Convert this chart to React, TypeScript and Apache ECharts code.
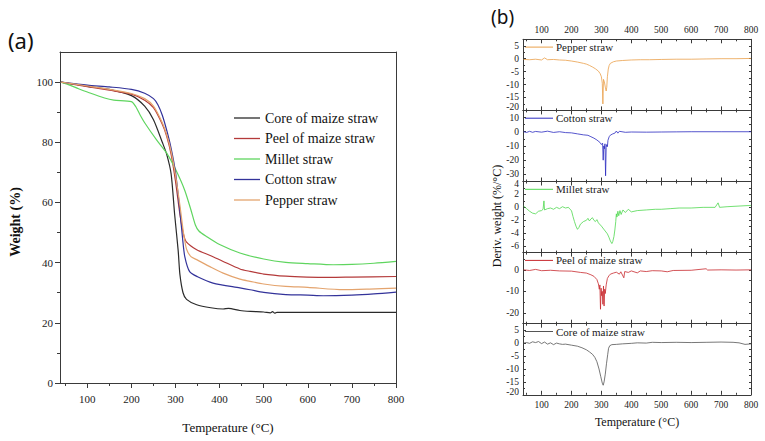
import React, { useEffect, useRef } from 'react';
import * as echarts from 'echarts';

// ---------- DATA ----------
const seriesNames = ['Core of maize straw', 'Peel of maize straw', 'Millet straw', 'Cotton straw', 'Pepper straw'];

// TGA (panel a): [temperature °C, weight %]
const tgaCore = [[40,100],[60,99.5],[80,99.1],[100,98.6],[150,97.6],[200,95.5],[230,92],[250,87.5],[270,80],[280,76],[290,69.5],[298,56],[306,44],[310,36],[317,30],[325,27.8],[348,26],[380,25],[408,24.6],[420,24.8],[446,24.1],[470,23.8],[500,23.6],[515,23.3],[520,23.7],[525,23.2],[530,23.5],[800,23.5]];
const tgaPeel = [[40,100],[100,98.5],[150,97.3],[200,96],[230,94],[250,91.5],[270,86],[280,82],[290,76],[300,67],[310,56],[318,49.5],[325,46.8],[348,44.3],[380,42.3],[408,40.4],[446,37.9],[469,37.1],[500,36.2],[550,35.5],[598,35.2],[650,35.1],[700,35.2],[800,35.4]];
const tgaMillet = [[40,100],[60,99],[80,97.8],[100,96.7],[139,94.7],[160,94],[200,93.5],[210,91.8],[220,89],[230,86.5],[257,80.8],[280,76.4],[300,71],[321,64],[335,57.5],[345,52.5],[353,50.5],[370,48.7],[400,46],[446,43.2],[500,41.2],[550,40.1],[600,39.7],[658,39.3],[700,39.4],[750,39.8],[800,40.4]];
const tgaCotton = [[40,100],[100,99],[150,98.4],[200,97.6],[230,96.3],[250,94.5],[260,92.5],[270,89],[280,84],[290,78],[300,70],[310,57],[316,48],[321,42],[332,37],[350,35.3],[385,33.2],[446,31.6],[469,31],[500,30.1],[550,29.4],[600,29.2],[635,29],[700,29.2],[750,29.6],[800,30.2]];
const tgaPepper = [[40,100],[100,98.7],[150,97.6],[200,96.2],[230,94.5],[250,92],[270,86.5],[280,82.5],[290,77],[300,69],[310,59],[318,50],[325,44.5],[335,42],[348,41],[380,38.5],[408,36.5],[446,34.5],[469,33.8],[500,32.9],[550,32.1],[600,31.8],[680,31],[740,31.2],[800,31.5]];

// DTG (panel b): [temperature °C, deriv. weight %/°C]
const dtgPepper = [[40,-0.3],[60,-0.4],[80,-0.2],[100,-0.5],[110,0.3],[120,-0.4],[140,-0.3],[160,-0.5],[180,-0.6],[200,-0.9],[220,-1.3],[240,-1.8],[250,-2.1],[260,-2.6],[270,-3.2],[280,-3.9],[290,-4.8],[296,-5.8],[300,-7],[303,-9.5],[305,-17.5],[307,-8],[310,-9],[313,-11],[316,-12.5],[318,-11],[320,-7],[323,-4],[326,-2.6],[330,-1.8],[340,-1.2],[350,-0.9],[370,-0.7],[400,-0.5],[430,-0.4],[460,-0.4],[500,-0.3],[550,-0.2],[600,-0.2],[650,-0.1],[700,0],[750,0],[800,0.1]];
const dtgCotton = [[40,0],[50,-0.5],[60,0.3],[70,-0.4],[80,0.2],[100,-0.3],[120,0.4],[140,-0.5],[160,0],[180,-0.6],[200,-0.8],[220,-1.5],[240,-2.2],[255,-2.5],[265,-3.5],[275,-4.5],[285,-5.8],[295,-7.5],[300,-9],[304,-8],[306,-20],[308,-10],[310,-12],[312,-8.5],[314,-31],[316,-11],[318,-9],[320,-10.5],[322,-6],[326,-3.5],[330,-2.4],[338,-1.5],[345,-1],[350,0.5],[355,-1],[360,0.3],[380,-0.4],[400,-0.2],[450,-0.3],[500,-0.2],[550,-0.1],[600,0],[700,0],[800,0]];
const dtgMillet = [[40,0.2],[50,-0.2],[60,-0.6],[70,-0.9],[80,-1],[90,-0.6],[100,-0.5],[105,-0.3],[108,1],[110,-0.4],[120,-0.2],[130,-0.1],[140,-0.3],[150,0],[160,-0.2],[170,0.1],[180,-0.1],[190,0],[195,-0.3],[200,-0.5],[205,-1.4],[210,-2.2],[215,-2.9],[220,-3.4],[225,-3.1],[230,-2.6],[240,-2.2],[250,-2],[255,-1.7],[260,-2.1],[265,-1.8],[270,-1.6],[275,-2],[280,-2.2],[285,-1.9],[290,-2.4],[300,-2.9],[310,-3.5],[320,-4.1],[325,-4.6],[330,-5.2],[335,-5.6],[338,-5.3],[342,-4.5],[345,-3.5],[348,-2.2],[350,-1],[352,-1.5],[355,-0.6],[358,-1.3],[362,-0.5],[366,-1.1],[372,-0.4],[380,-0.8],[390,-0.3],[400,-0.7],[420,-0.5],[450,-0.4],[480,-0.3],[500,-0.3],[530,-0.2],[560,-0.1],[600,-0.1],[640,0],[680,0],[690,0.7],[695,0],[720,0.1],[760,0.2],[800,0.3]];
const dtgPeel = [[40,0],[60,-0.3],[80,0.2],[100,-0.4],[130,-0.2],[160,-0.5],[200,-0.6],[230,-1.2],[250,-1.5],[265,-2.3],[275,-3],[285,-4.5],[290,-6.5],[293,-9],[295,-7],[297,-18.3],[299,-8.5],[301,-12],[303,-10],[305,-16],[307,-7.5],[309,-16.8],[311,-9],[313,-11],[316,-7],[320,-4],[325,-2.8],[330,-2],[340,-1.5],[350,-1.1],[360,-2],[365,-0.9],[375,-3.7],[378,-0.8],[390,-1.2],[400,-0.5],[420,-1.4],[430,-0.5],[450,-0.8],[470,-0.4],[500,-0.5],[520,-0.9],[540,-0.3],[600,-0.2],[650,0.5],[655,-0.1],[700,0],[750,-0.1],[800,0]];
const dtgCore = [[40,0],[50,0.2],[60,-0.1],[70,0.5],[80,0.2],[90,0.6],[100,-0.2],[110,0.4],[120,-0.4],[130,0.1],[140,-0.6],[150,0],[160,-0.3],[170,-0.5],[180,-0.4],[200,-0.8],[220,-1.2],[235,-1.8],[250,-2.6],[260,-3.4],[270,-4.3],[278,-5.5],[285,-7.2],[292,-10],[298,-13],[303,-15.5],[306,-16.3],[309,-15],[313,-12],[317,-8],[321,-4.5],[324,-2],[328,-1],[335,-0.6],[350,-0.5],[370,-0.3],[400,-0.1],[420,0.1],[450,0],[470,0.3],[500,0.2],[550,0.3],[600,0.2],[650,0.3],[700,0.4],[740,0.3],[760,0.1],[780,-0.5],[790,-0.4],[800,-0.3]];

// Ticks
const xTicksMajor = [100, 200, 300, 400, 500, 600, 700, 800];
const xTicksMinor = [50, 150, 250, 350, 450, 550, 650, 750];
const weightTicksMajor = [0, 20, 40, 60, 80, 100];
const weightTicksMinor = [10, 30, 50, 70, 90];
const pepperTicks = [-20, -15, -10, -5, 0, 5];
const pepperMinor = [-17.5, -12.5, -7.5, -2.5, 2.5];
const cottonTicks = [-30, -20, -10, 0, 10];
const cottonMinor = [-25, -15, -5, 5];
const milletTicks = [-6, -4, -2, 0, 2, 4];
const milletMinor = [-7, -5, -3, -1, 1, 3];
const peelTicks = [-20, -10, 0];
const peelMinor = [-25, -15, -5, 5];
const coreTicks = [-20, -15, -10, -5, 0, 5];
const coreMinor = [-17.5, -12.5, -7.5, -2.5, 2.5];

const tempRangeA = [38, 800];
const tempRangeB = [38, 800];
const weightRange = [0, 110];
const pepperRange = [-20, 7.5];
const cottonRange = [-35, 15];
const milletRange = [-7, 4];
const peelRange = [-25, 8];
const coreRange = [-20, 7.5];

// ---------- STYLE ----------
const SERIF = "'Liberation Serif', 'Times New Roman', serif";
const SANS = "'Noto Sans', 'DejaVu Sans', sans-serif";
const AX = '#3a3a3a';
const colorsA = ['#2a2a2a', '#b43a3a', '#5fd55f', '#33339a', '#e4a46e'];

function buildOption() {
  const grid: any[] = [];
  const xAxis: any[] = [];
  const yAxis: any[] = [];
  const series: any[] = [];
  const graphic: any[] = [];

  const line = (show: boolean) => ({ show, onZero: false, lineStyle: { color: AX, width: 1 } });

  // ----- Panel (a) -----
  grid.push({ left: 60, top: 52, width: 336, height: 331, containLabel: false });
  const xa = xAxis.length;
  xAxis.push({
    gridIndex: 0, type: 'value', min: tempRangeA[0], max: tempRangeA[1], position: 'bottom',
    axisLine: line(true),
    axisTick: { show: true, inside: false, length: 5, customValues: xTicksMajor, lineStyle: { color: AX } },
    axisLabel: { show: true, customValues: xTicksMajor, margin: 10, fontFamily: SERIF, fontSize: 11, color: '#222' },
    splitLine: { show: false },
  });
  xAxis.push({
    gridIndex: 0, type: 'value', min: tempRangeA[0], max: tempRangeA[1], position: 'bottom',
    axisLine: line(false),
    axisTick: { show: true, inside: false, length: 3, customValues: xTicksMinor, lineStyle: { color: AX } },
    axisLabel: { show: false }, splitLine: { show: false },
  });
  xAxis.push({
    gridIndex: 0, type: 'value', min: tempRangeA[0], max: tempRangeA[1], position: 'top',
    axisLine: line(true), axisTick: { show: false }, axisLabel: { show: false }, splitLine: { show: false },
  });
  const ya = yAxis.length;
  yAxis.push({
    gridIndex: 0, type: 'value', min: weightRange[0], max: weightRange[1], position: 'left',
    axisLine: line(true),
    axisTick: { show: true, inside: false, length: 5, customValues: weightTicksMajor, lineStyle: { color: AX } },
    axisLabel: { show: true, customValues: weightTicksMajor, margin: 7, fontFamily: SERIF, fontSize: 11, color: '#222' },
    splitLine: { show: false },
  });
  yAxis.push({
    gridIndex: 0, type: 'value', min: weightRange[0], max: weightRange[1], position: 'left',
    axisLine: line(false),
    axisTick: { show: true, inside: false, length: 3, customValues: weightTicksMinor, lineStyle: { color: AX } },
    axisLabel: { show: false }, splitLine: { show: false },
  });
  yAxis.push({
    gridIndex: 0, type: 'value', min: weightRange[0], max: weightRange[1], position: 'right',
    axisLine: line(true), axisTick: { show: false }, axisLabel: { show: false }, splitLine: { show: false },
  });

  const tgaData = [tgaCore, tgaPeel, tgaMillet, tgaCotton, tgaPepper];
  tgaData.forEach((d, i) => {
    series.push({
      type: 'line', name: seriesNames[i], xAxisIndex: xa, yAxisIndex: ya, data: d,
      symbol: 'none', showSymbol: false, smooth: 0.25,
      lineStyle: { width: 1.2, color: colorsA[i] }, itemStyle: { color: colorsA[i] },
    });
  });

  // ----- Panel (b) -----
  const panels = [
    { name: 'Pepper straw', data: dtgPepper, range: pepperRange, major: pepperTicks, minor: pepperMinor, color: '#eaa04a' },
    { name: 'Cotton straw', data: dtgCotton, range: cottonRange, major: cottonTicks, minor: cottonMinor, color: '#2b2bc0' },
    { name: 'Millet straw', data: dtgMillet, range: milletRange, major: milletTicks, minor: milletMinor, color: '#4fd84f' },
    { name: 'Peel of maize straw', data: dtgPeel, range: peelRange, major: peelTicks, minor: peelMinor, color: '#c8282d' },
    { name: 'Core of maize straw', data: dtgCore, range: coreRange, major: coreTicks, minor: coreMinor, color: '#555555' },
  ];
  const BL = 523, BW = 228, BT = 39.3, BH = 71.1;
  const labelFont = { fontFamily: SERIF, fontSize: 9.5, color: '#222' };
  panels.forEach((p, i) => {
    const gi = grid.length;
    const top = BT + i * BH;
    grid.push({ left: BL, top, width: BW, height: BH, containLabel: false });
    const xi = xAxis.length;
    const xBase = { gridIndex: gi, type: 'value', min: tempRangeB[0], max: tempRangeB[1], splitLine: { show: false } };
    xAxis.push({
      ...xBase, position: 'bottom', axisLine: line(true),
      axisTick: { show: true, inside: true, length: 4, customValues: xTicksMajor, lineStyle: { color: AX } },
      axisLabel: { show: i === panels.length - 1, customValues: xTicksMajor, margin: 5, ...labelFont },
    });
    xAxis.push({
      ...xBase, position: 'bottom', axisLine: line(false),
      axisTick: { show: true, inside: true, length: 2, customValues: xTicksMinor, lineStyle: { color: AX } },
      axisLabel: { show: false },
    });
    xAxis.push({
      ...xBase, position: 'top', axisLine: line(true),
      axisTick: { show: true, inside: true, length: 4, customValues: xTicksMajor, lineStyle: { color: AX } },
      axisLabel: { show: i === 0, customValues: xTicksMajor, margin: 4, ...labelFont },
    });
    xAxis.push({
      ...xBase, position: 'top', axisLine: line(false),
      axisTick: { show: true, inside: true, length: 2, customValues: xTicksMinor, lineStyle: { color: AX } },
      axisLabel: { show: false },
    });
    const yi = yAxis.length;
    const yBase = { gridIndex: gi, type: 'value', min: p.range[0], max: p.range[1], splitLine: { show: false } };
    const lo = p.range[0], hi = p.range[1];
    yAxis.push({
      ...yBase, position: 'left', axisLine: line(true),
      axisTick: { show: true, inside: true, length: 3, customValues: p.major, lineStyle: { color: AX } },
      axisLabel: {
        show: true, customValues: p.major, margin: 4, ...labelFont,
        formatter: (v: number) => (v === lo ? `{lo|${v}}` : v === hi ? `{hi|${v}}` : `${v}`),
        rich: {
          lo: { ...labelFont, padding: [0, 0, 6, 0] },
          hi: { ...labelFont, padding: [5, 0, 0, 0] },
        },
      },
    });
    yAxis.push({
      ...yBase, position: 'left', axisLine: line(false),
      axisTick: { show: true, inside: true, length: 2, customValues: p.minor, lineStyle: { color: AX } },
      axisLabel: { show: false },
    });
    yAxis.push({
      ...yBase, position: 'right', axisLine: line(true),
      axisTick: { show: true, inside: true, length: 2, customValues: [...p.major, ...p.minor], lineStyle: { color: AX } },
      axisLabel: { show: false },
    });
    series.push({
      type: 'line', id: 'dtg' + i, xAxisIndex: xi, yAxisIndex: yi, data: p.data,
      symbol: 'none', showSymbol: false, lineStyle: { width: 0.8, color: p.color }, itemStyle: { color: p.color },
    });
    const ly = top + 7.8;
    graphic.push({ type: 'line', silent: true, shape: { x1: BL + 2, y1: ly, x2: BL + 30, y2: ly }, style: { stroke: p.color, lineWidth: 1 } });
    graphic.push({ type: 'text', silent: true, x: BL + 33, y: ly, style: { text: p.name, font: `11px ${SERIF}`, fill: '#1a1a1a', align: 'left', verticalAlign: 'middle' } });
  });

  // Titles and panel labels
  graphic.push({ type: 'text', x: 8, y: 40, style: { text: '(a)', font: `22px ${SANS}`, fill: '#111', align: 'left', verticalAlign: 'middle' } });
  graphic.push({ type: 'text', x: 491, y: 17, style: { text: '(b)', font: `19px ${SANS}`, fill: '#111', align: 'left', verticalAlign: 'middle' } });
  graphic.push({ type: 'text', x: 228, y: 427, style: { text: 'Temperature (°C)', font: `13px ${SERIF}`, fill: '#111', align: 'center', verticalAlign: 'middle' } });
  graphic.push({ type: 'text', x: 15, y: 222, rotation: Math.PI / 2, style: { text: 'Weight (%)', font: `bold 14px ${SERIF}`, fill: '#111', align: 'center', verticalAlign: 'middle' } });
  graphic.push({ type: 'text', x: 637, y: 422, style: { text: 'Temperature (°C)', font: `12px ${SERIF}`, fill: '#111', align: 'center', verticalAlign: 'middle' } });
  graphic.push({ type: 'text', x: 497, y: 216, rotation: Math.PI / 2, style: { text: 'Deriv. weight (%/°C)', font: `12px ${SERIF}`, fill: '#111', align: 'center', verticalAlign: 'middle' } });

  return {
    animation: false,
    backgroundColor: '#ffffff',
    grid, xAxis, yAxis, series, graphic,
    legend: {
      data: seriesNames.map((n) => ({ name: n, icon: 'rect' })), orient: 'vertical', left: 234, top: 111,
      itemWidth: 26, itemHeight: 1.3, itemGap: 6.5, padding: 0, selectedMode: false,
      textStyle: { fontFamily: SERIF, fontSize: 14, color: '#111', lineHeight: 14 },
    },
  };
}

export default function App() {
  const ref = useRef<HTMLDivElement>(null);
  useEffect(() => {
    if (!ref.current) return;
    const chart = echarts.init(ref.current, undefined, { renderer: 'svg' });
    chart.setOption(buildOption() as any);
    return () => chart.dispose();
  }, []);
  return <div ref={ref} style={{ position: 'fixed', left: 0, top: 0, width: 765, height: 441, background: '#fff' }} />;
}
